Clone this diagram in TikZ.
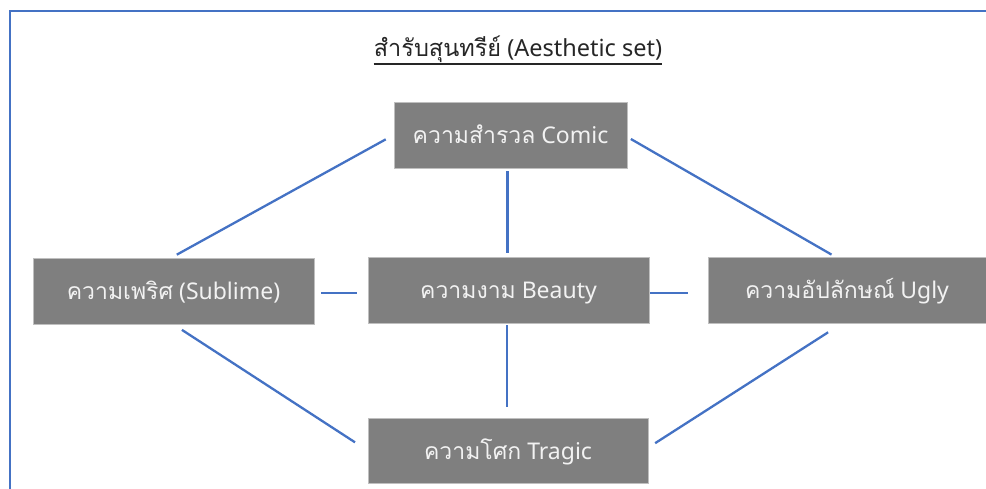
\documentclass[tikz,border=0pt]{standalone}
\usepackage{fontspec}
\setmainfont{Noto Sans}
\newfontfamily\thaifont[Script=Thai]{Loma}
\definecolor{linkblue}{HTML}{4472C4}
\definecolor{boxgray}{HTML}{7F7F7F}
\definecolor{boxedge}{HTML}{BFBFBF}
\definecolor{boxtext}{HTML}{F2F2F2}
\definecolor{titletext}{HTML}{262626}
\begin{document}
\begin{tikzpicture}[x=1pt,y=-1pt,
  concept/.style={draw=boxedge, line width=0.8pt, fill=boxgray, text=boxtext,
    font=\fontsize{23}{26}\selectfont, inner sep=0pt, minimum height=66pt,
    text height=17pt, text depth=0pt},
  link/.style={draw=linkblue, line width=2.3pt},
  frameline/.style={draw=linkblue, line width=2.4pt}]
\useasboundingbox (0,0) rectangle (986,489);
% frame
\coordinate (ftr) at (987,11);
\coordinate (ftl) at (10,11);
\coordinate (fbl) at (10,490);
\draw[frameline] (ftr) -- (ftl) -- (fbl);
% title
\node[font=\fontsize{23.5}{26}\selectfont, text=titletext, inner sep=0pt, anchor=base] (title) at (518,57)
  {{\thaifont สำรับสุนทรีย์} (Aesthetic set)};
\draw[titletext, line width=1.1pt] ([yshift=-7pt]title.base west) -- ([yshift=-7pt]title.base east);
% concepts
\node[concept, minimum width=233pt] (comic) at (510.5,135) {{\thaifont ความสำรวล} Comic};
\node[concept, minimum width=281pt] (sublime) at (173.5,291) {{\thaifont ความเพริศ} (Sublime)};
\node[concept, minimum width=281pt] (beauty) at (508.5,290) {{\thaifont ความงาม} Beauty};
\node[concept, minimum width=278pt] (ugly) at (847,290) {{\thaifont ความอัปลักษณ์} Ugly};
\node[concept, minimum width=280pt, minimum height=65pt] (tragic) at (508,450.5) {{\thaifont ความโศก} Tragic};
% connectors
\draw[link, shorten <=9pt, shorten >=6pt] (comic.west) -- ([xshift=-2pt]sublime.north);
\draw[link, shorten <=4pt, shorten >=4pt] ([yshift=-2pt]comic.east) -- ([xshift=-12pt]ugly.north);
\draw[link, shorten <=3pt, shorten >=4pt] ([xshift=-3pt]comic.south) -- ([xshift=-1pt]beauty.north);
\draw[link, shorten <=7pt, shorten >=11pt] ([yshift=-2pt]sublime.east) -- ([yshift=-3pt]beauty.west);
\draw[link, shorten <=1pt, shorten >=20pt] ([yshift=-3pt]beauty.east) -- ([yshift=-3pt]ugly.west);
\draw[link, shorten <=2pt, shorten >=11pt] ([xshift=-1.5pt]beauty.south) -- ([xshift=-1pt]tragic.north);
\draw[link, shorten <=10pt, shorten >=15pt] (sublime.south) -- (tragic.west);
\draw[link, shorten <=16.5pt, shorten >=8pt] ([xshift=-5pt]ugly.south) -- ([yshift=3pt]tragic.east);
\end{tikzpicture}
\end{document}
